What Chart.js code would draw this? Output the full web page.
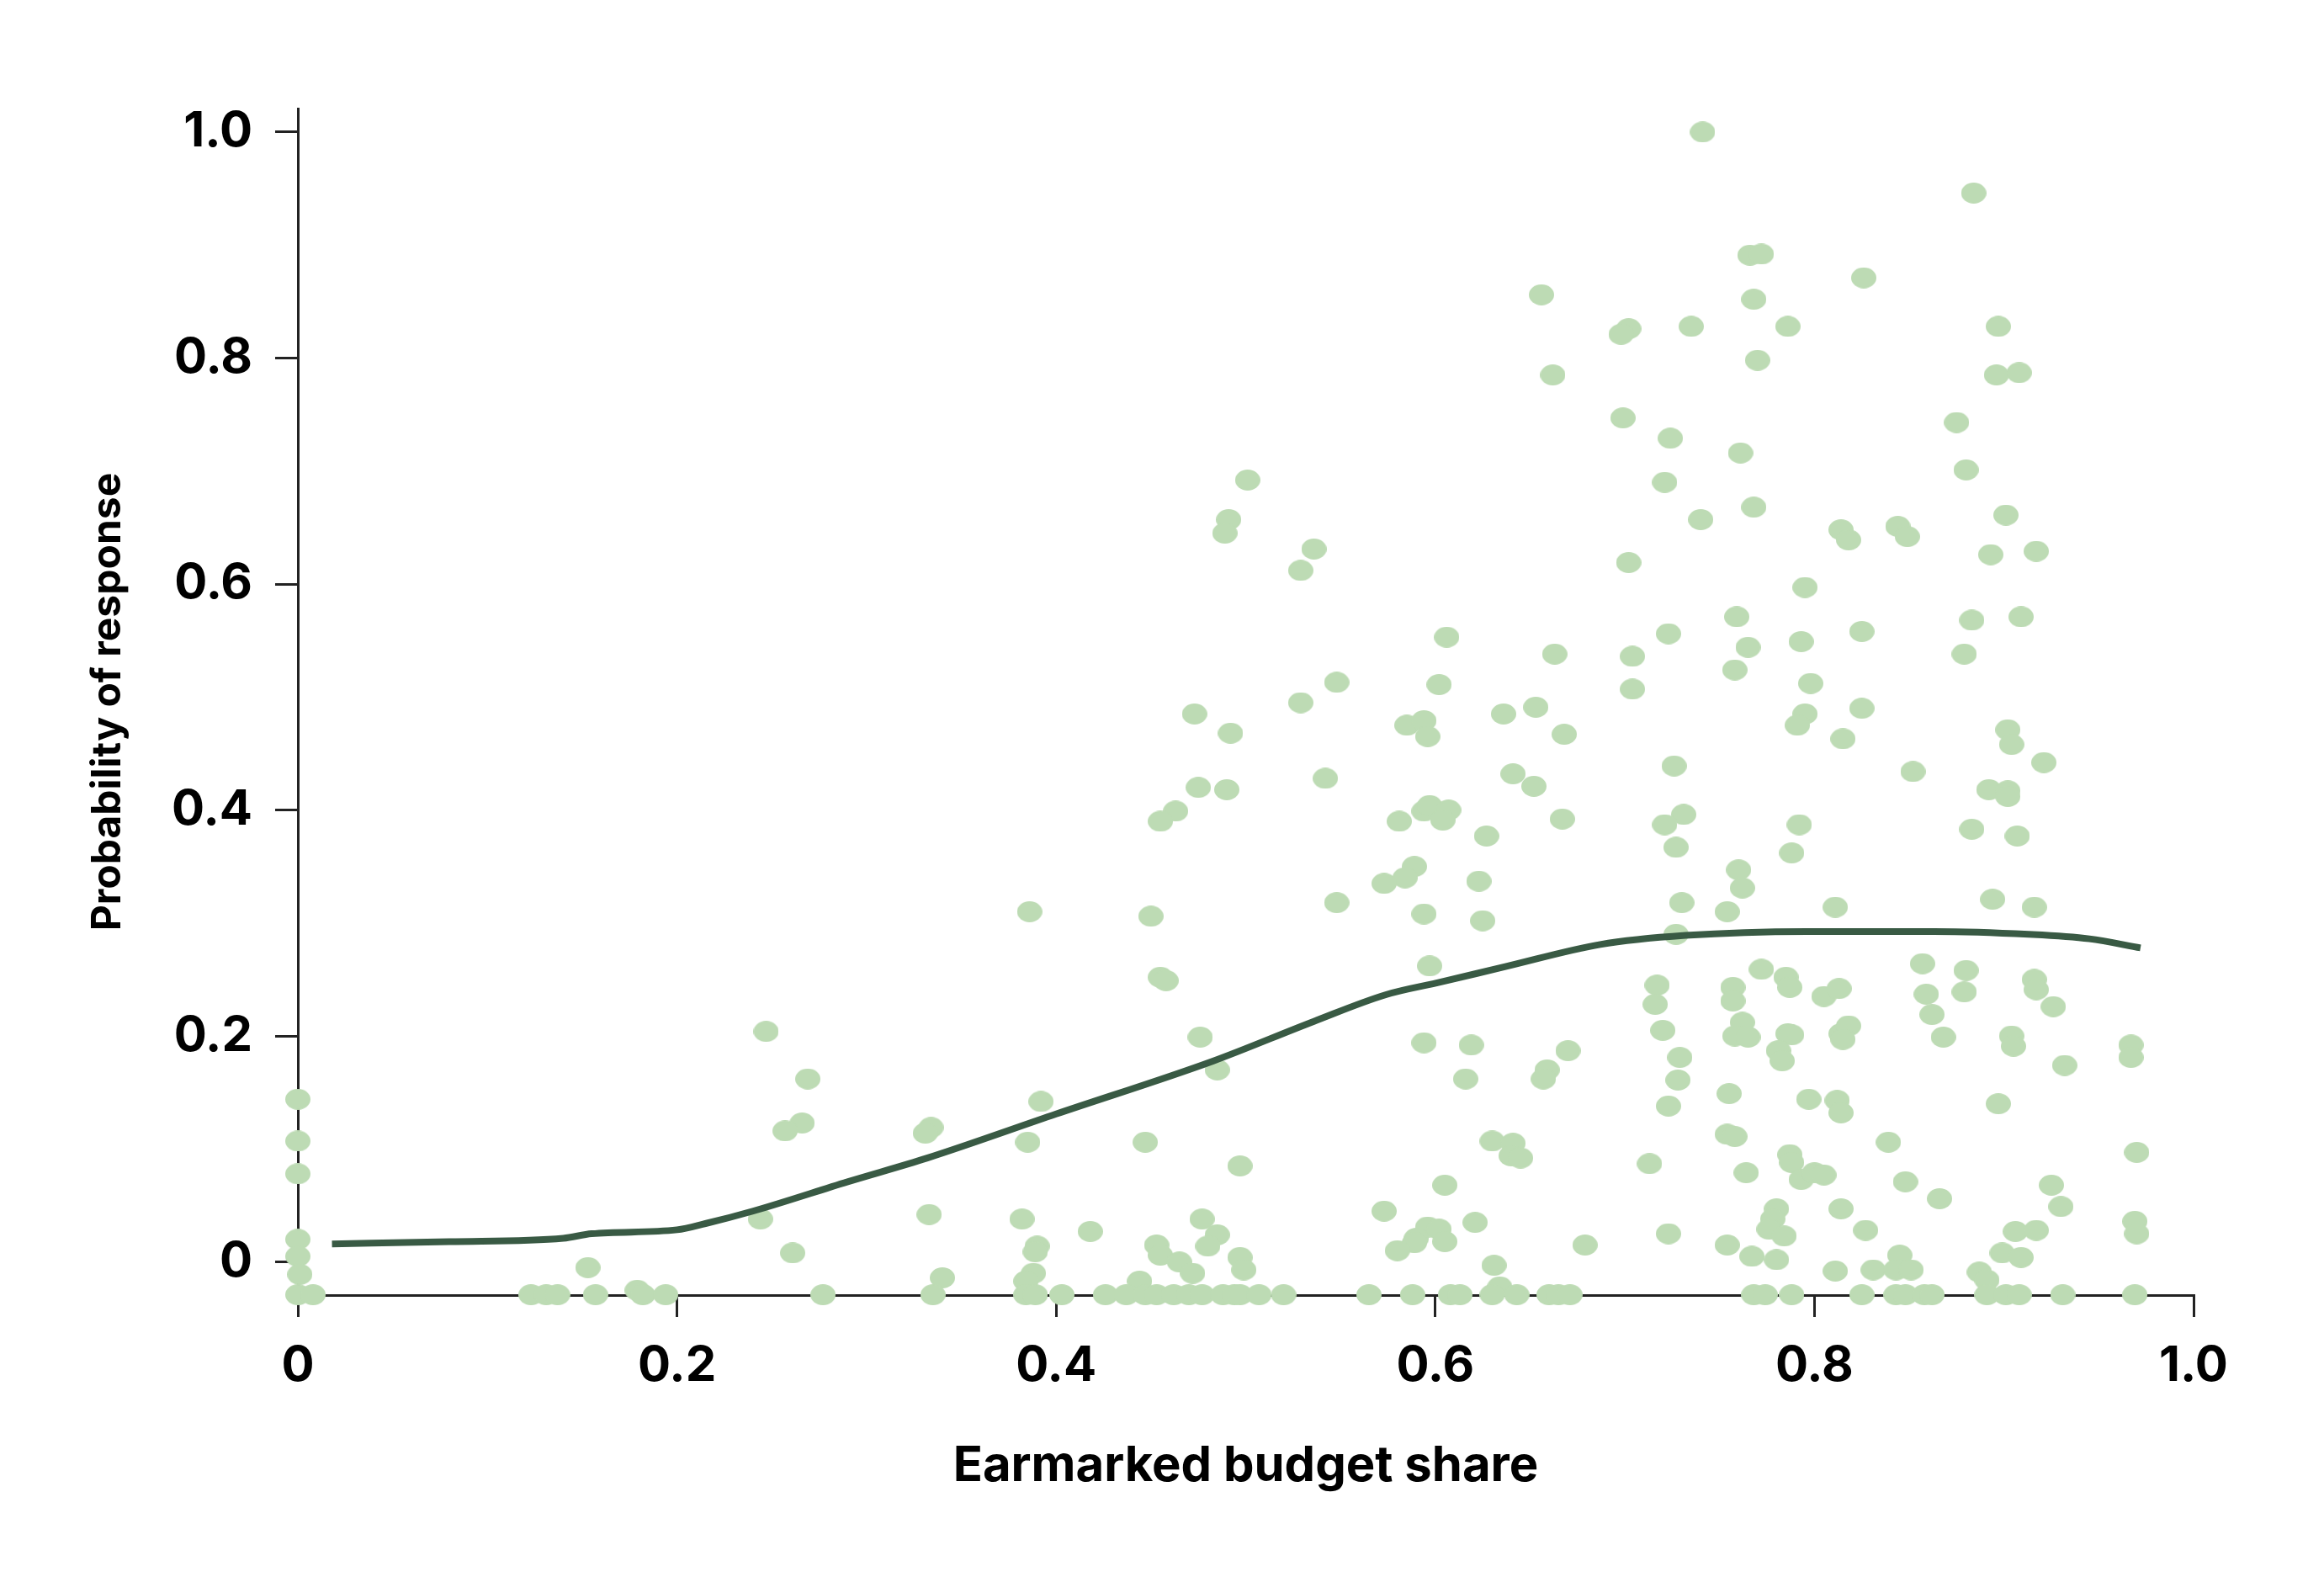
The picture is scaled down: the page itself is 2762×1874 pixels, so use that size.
<!DOCTYPE html>
<html>
<head>
<meta charset="utf-8">
<script src="https://cdn.jsdelivr.net/npm/chart.js@4.4.1/dist/chart.umd.min.js"></script>
<style>
html, body { margin: 0; padding: 0; background: #fff; }
canvas { display: block; }
</style>
</head>
<body>
<canvas id="chart" width="2762" height="1874" style="width:2762px;height:1874px"></canvas>
<script>
// tick labels
var xTicks = [0, 0.2, 0.4, 0.6, 0.8, 1.0];
var yTicks = [0, 0.2, 0.4, 0.6, 0.8, 1.0];

// scatter: earmarked budget share (x) / probability of response (y)
var xs = [
  // near zero and left part
  0, 0, 0, 0, 0, 0.001, 0, 0.008, 0.153, 0.123, 0.131, 0.137, 0.157, 0.179, 0.182, 0.194,
  0.247, 0.269, 0.266, 0.257, 0.334, 0.331, 0.244, 0.261, 0.333, 0.340, 0.335, 0.277,
  // 0.33 - 0.68, lower part
  0.455, 0.458, 0.597, 0.476, 0.485, 0.392, 0.385, 0.447, 0.497, 0.594, 0.619, 0.616,
  0.659, 0.657, 0.670, 0.630, 0.641, 0.640, 0.645, 0.605, 0.573, 0.621, 0.596, 0.602,
  0.590, 0.589, 0.605, 0.580, 0.631, 0.679, 0.382, 0.390, 0.389, 0.388, 0.384, 0.418,
  0.453, 0.455, 0.465, 0.472, 0.477, 0.485, 0.480, 0.497, 0.499, 0.444, 0.634,
  0.384, 0.389, 0.403, 0.426, 0.437, 0.447, 0.453, 0.462, 0.470, 0.477, 0.488, 0.494,
  0.497, 0.507, 0.520, 0.565, 0.588, 0.608, 0.613, 0.630, 0.643, 0.660, 0.665, 0.671,
  // 0.7 - 1.0, lower part
  0.717, 0.716, 0.720, 0.729, 0.728, 0.723, 0.772, 0.785, 0.787, 0.757, 0.757, 0.762,
  0.758, 0.765, 0.786, 0.788, 0.781, 0.783, 0.805, 0.813, 0.814, 0.818, 0.815, 0.857,
  0.880, 0.859, 0.879, 0.862, 0.868, 0.916, 0.917, 0.926, 0.904, 0.905, 0.967, 0.967,
  0.932, 0.755, 0.797, 0.812, 0.814, 0.897, 0.754, 0.758, 0.839, 0.970, 0.713, 0.764,
  0.787, 0.788, 0.793, 0.800, 0.805, 0.848, 0.866, 0.925, 0.930, 0.814, 0.780, 0.778,
  0.776, 0.784, 0.827, 0.723, 0.754, 0.767, 0.780, 0.811, 0.831, 0.845, 0.843, 0.851,
  0.887, 0.891, 0.899, 0.909, 0.906, 0.917, 0.969, 0.970,
  0.768, 0.774, 0.788, 0.825, 0.843, 0.848, 0.858, 0.862, 0.891, 0.901, 0.908, 0.931, 0.969,
  // 0.45 - 0.67, middle part
  0.606, 0.663, 0.548, 0.602, 0.529, 0.473, 0.492, 0.585, 0.594, 0.596, 0.636, 0.653,
  0.668, 0.542, 0.475, 0.490, 0.463, 0.455, 0.641, 0.652, 0.594, 0.597, 0.607, 0.604,
  0.581, 0.627, 0.667, 0.589, 0.584, 0.573, 0.623, 0.548, 0.594, 0.625, 0.386, 0.450,
  // 0.7 - 0.92, middle part
  0.759, 0.723, 0.704, 0.704, 0.765, 0.758, 0.793, 0.825, 0.798, 0.883, 0.909, 0.879,
  0.795, 0.791, 0.825, 0.815, 0.902, 0.904, 0.921, 0.726, 0.852, 0.892, 0.902, 0.902,
  0.731, 0.721, 0.792, 0.883, 0.907, 0.727, 0.788, 0.760, 0.762, 0.730, 0.754, 0.811,
  0.894, 0.916, 0.727,
  // upper part
  0.656, 0.662, 0.501, 0.491, 0.489, 0.536, 0.529,
  0.766, 0.772, 0.826, 0.768, 0.702, 0.698, 0.735, 0.786, 0.897, 0.770, 0.896, 0.908,
  0.699, 0.875, 0.724, 0.761, 0.880, 0.721, 0.768, 0.740, 0.901, 0.814, 0.818, 0.844,
  0.849, 0.893, 0.917, 0.702, 0.795,
  0.741, 0.884
];
var ys = [
  0.144, 0.107, 0.078, 0.020, 0.005, -0.011, -0.029, -0.029, -0.005, -0.029, -0.029, -0.029, -0.029, -0.025, -0.029, -0.029,
  0.204, 0.162, 0.123, 0.116, 0.119, 0.114, 0.038, 0.008, 0.042, -0.014, -0.029, -0.029,
  0.252, 0.249, 0.262, 0.199, 0.170, 0.142, 0.106, 0.106, 0.085, 0.194, 0.192, 0.162,
  0.170, 0.162, 0.187, 0.107, 0.105, 0.094, 0.092, 0.068, 0.045, 0.035, 0.031, 0.029,
  0.021, 0.017, 0.018, 0.010, -0.003, 0.015, 0.038, 0.014, 0.009, -0.010, -0.017, 0.027,
  0.015, 0.006, 0.000, -0.010, 0.038, 0.024, 0.014, 0.004, -0.007, -0.017, -0.022,
  -0.029, -0.029, -0.029, -0.029, -0.029, -0.029, -0.029, -0.029, -0.029, -0.029, -0.029, -0.029,
  -0.029, -0.029, -0.029, -0.029, -0.029, -0.029, -0.029, -0.029, -0.029, -0.029, -0.029, -0.029,
  0.245, 0.228, 0.205, 0.181, 0.161, 0.138, 0.259, 0.252, 0.243, 0.243, 0.231, 0.212,
  0.200, 0.199, 0.202, 0.201, 0.187, 0.178, 0.235, 0.242, 0.202, 0.209, 0.197, 0.264,
  0.258, 0.237, 0.239, 0.219, 0.199, 0.250, 0.241, 0.226, 0.200, 0.191, 0.192, 0.181,
  0.174, 0.149, 0.144, 0.143, 0.132, 0.140, 0.113, 0.111, 0.106, 0.097, 0.087, 0.079,
  0.095, 0.088, 0.073, 0.079, 0.077, 0.071, 0.056, 0.068, 0.049, 0.047, 0.047, 0.038,
  0.029, 0.023, 0.028, 0.025, 0.015, 0.005, 0.002, -0.008, -0.007, 0.006, -0.007, -0.007,
  -0.009, -0.016, 0.008, 0.004, 0.027, 0.028, 0.036, 0.025,
  -0.029, -0.029, -0.029, -0.029, -0.029, -0.029, -0.029, -0.029, -0.029, -0.029, -0.029, -0.029, -0.029,
  0.553, 0.538, 0.513, 0.511, 0.495, 0.485, 0.468, 0.475, 0.479, 0.465, 0.485, 0.491,
  0.467, 0.428, 0.420, 0.418, 0.399, 0.390, 0.432, 0.421, 0.399, 0.404, 0.400, 0.391,
  0.390, 0.377, 0.392, 0.350, 0.340, 0.335, 0.337, 0.318, 0.308, 0.302, 0.310, 0.306,
  0.571, 0.556, 0.536, 0.507, 0.544, 0.524, 0.549, 0.558, 0.512, 0.568, 0.571, 0.538,
  0.485, 0.475, 0.490, 0.463, 0.471, 0.458, 0.442, 0.439, 0.434, 0.418, 0.417, 0.412,
  0.396, 0.387, 0.387, 0.383, 0.377, 0.367, 0.362, 0.347, 0.331, 0.318, 0.310, 0.314,
  0.321, 0.314, 0.290,
  0.856, 0.785, 0.692, 0.657, 0.645, 0.631, 0.612,
  0.891, 0.892, 0.871, 0.852, 0.826, 0.821, 0.828, 0.828, 0.828, 0.798, 0.785, 0.787,
  0.747, 0.743, 0.729, 0.716, 0.701, 0.690, 0.668, 0.657, 0.661, 0.648, 0.639, 0.651,
  0.642, 0.626, 0.629, 0.619, 0.597,
  1.000, 0.946
];

// smoothed fit line
var fitX = [0.018, 0.08, 0.14, 0.155, 0.2, 0.215, 0.24, 0.29, 0.332, 0.40, 0.483, 0.536, 0.574, 0.603, 0.637, 0.687, 0.732, 0.796, 0.863, 0.913, 0.945, 0.972];
var fitY = [0.016, 0.018, 0.021, 0.025, 0.0285, 0.034, 0.045, 0.071, 0.092, 0.131, 0.178, 0.213, 0.2366, 0.2478, 0.2614, 0.281, 0.289, 0.2925, 0.2925, 0.290, 0.286, 0.278];

var points = xs.map(function (x, i) { return { x: x, y: ys[i] }; });
var fit = fitX.map(function (x, i) { return { x: x, y: fitY[i] }; });

// oval marker
var dot = document.createElement('canvas');
dot.width = 30;
dot.height = 25;
var g = dot.getContext('2d');
g.fillStyle = '#bddbb4';
g.beginPath();
g.ellipse(15, 12.5, 15, 12.5, 0, 0, Math.PI * 2);
g.fill();

function fmt(v) {
  return v === 0 ? '0' : Number(v).toFixed(1);
}

function draw() {
  Chart.defaults.font.family = 'Inter, "Open Sans", sans-serif';
  Chart.defaults.color = '#000';

  new Chart(document.getElementById('chart'), {
    type: 'scatter',
    data: {
      datasets: [{
        type: 'line',
        data: fit,
        borderColor: '#395a44',
        borderWidth: 8,
        pointRadius: 0,
        fill: false,
        cubicInterpolationMode: 'monotone',
        order: 0
      }, {
        data: points,
        pointStyle: dot,
        pointRadius: 15,
        clip: false,
        order: 1
      }]
    },
    options: {
      responsive: false,
      devicePixelRatio: 1,
      animation: false,
      layout: { padding: { top: 129, right: 155, left: 0, bottom: 0 } },
      plugins: { legend: { display: false }, tooltip: { enabled: false } },
      scales: {
        x: {
          type: 'linear',
          min: 0,
          max: 1,
          afterBuildTicks: function (s) { s.ticks = xTicks.map(function (v) { return { value: v }; }); },
          afterFit: function (s) { s.height = 335; },
          grid: { drawOnChartArea: false, drawTicks: true, tickLength: 26, lineWidth: 3, color: '#222' },
          border: { display: true, color: '#222', width: 3 },
          ticks: { padding: 24, color: '#000', font: { size: 58, weight: '700' }, maxRotation: 0, autoSkip: false, callback: fmt },
          title: { display: true, text: 'Earmarked budget share', color: '#000', font: { size: 58, weight: '700' }, padding: { top: 0, bottom: 97 } }
        },
        y: {
          type: 'linear',
          min: -0.0293,
          max: 1.0208,
          afterBuildTicks: function (s) { s.ticks = yTicks.map(function (v) { return { value: v }; }); },
          afterFit: function (s) { s.width = 354; },
          grid: { drawOnChartArea: false, drawTicks: true, tickLength: 27, lineWidth: 3, color: '#222' },
          border: { display: true, color: '#222', width: 3 },
          ticks: { padding: 27, color: '#000', font: { size: 58, weight: '700' }, autoSkip: false, callback: fmt },
          title: { display: true, text: 'Probability of response', color: '#000', font: { size: 48, weight: '700' }, padding: { top: 100, bottom: 0 } }
        }
      }
    }
  });
}

if (document.fonts && document.fonts.load) {
  document.fonts.load('700 58px Inter').then(draw, draw);
} else {
  draw();
}
</script>
</body>
</html>
